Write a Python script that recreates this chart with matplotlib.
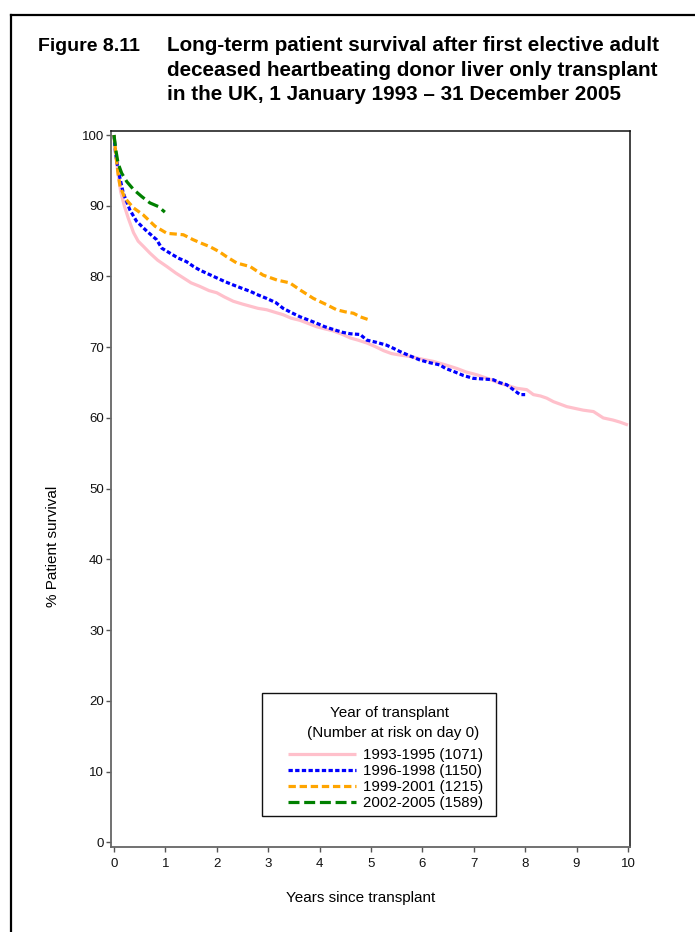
import matplotlib
matplotlib.use("Agg")
import matplotlib.pyplot as plt
from matplotlib.patches import Rectangle
from matplotlib.lines import Line2D

plt.rcParams['font.family'] = ['Liberation Sans', 'DejaVu Sans']
plt.rcParams['lines.scale_dashes'] = False

# ---------------- data ----------------
t_9395 = [0, 0.03, 0.08, 0.13, 0.2, 0.28, 0.38, 0.47, 0.58, 0.7, 0.85, 1.03, 1.2, 1.35, 1.5,
          1.67, 1.85, 2.0, 2.15, 2.32, 2.5, 2.65, 2.8, 2.97, 3.15, 3.29, 3.45, 3.62, 3.8, 3.94,
          4.1, 4.27, 4.45, 4.6, 4.75, 4.92, 5.08, 5.25, 5.4, 5.56, 5.76, 6.0, 6.21, 6.45, 6.67,
          6.85, 7.06, 7.3, 7.51, 7.7, 7.83, 8.03, 8.16, 8.3, 8.42, 8.55, 8.7, 8.81, 9.0, 9.13,
          9.33, 9.52, 9.71, 9.85, 10.0]
s_9395 = [100, 97.5, 94.5, 92.0, 90.0, 88.2, 86.2, 85.0, 84.2, 83.3, 82.3, 81.4, 80.5, 79.8, 79.1,
          78.6, 78.0, 77.7, 77.1, 76.5, 76.1, 75.8, 75.5, 75.3, 74.9, 74.6, 74.1, 73.8, 73.3, 72.9,
          72.6, 72.3, 71.8, 71.3, 71.0, 70.6, 70.1, 69.5, 69.1, 68.9, 68.7, 68.3, 68.0, 67.5, 67.0,
          66.5, 66.1, 65.5, 64.9, 64.5, 64.2, 64.0, 63.3, 63.1, 62.8, 62.3, 61.9, 61.6, 61.3, 61.1,
          60.9, 60.0, 59.7, 59.4, 59.0]

t_9698 = [0, 0.03, 0.08, 0.18, 0.31, 0.44, 0.64, 0.83, 0.93, 1.09, 1.25, 1.41, 1.55, 1.67, 1.85,
          2.0, 2.15, 2.32, 2.5, 2.65, 2.8, 2.97, 3.15, 3.29, 3.45, 3.62, 3.8, 3.94, 4.1, 4.27,
          4.45, 4.6, 4.79, 4.92, 5.1, 5.3, 5.45, 5.56, 5.75, 5.95, 6.15, 6.34, 6.45, 6.6, 6.8,
          6.99, 7.2, 7.38, 7.5, 7.64, 7.77, 7.9, 8.0]
s_9698 = [100, 97.5, 95.1, 91.8, 89.4, 87.8, 86.4, 85.2, 84.0, 83.3, 82.6, 82.1, 81.4, 80.9, 80.3,
          79.8, 79.3, 78.8, 78.3, 77.9, 77.4, 76.9, 76.3, 75.5, 74.9, 74.3, 73.8, 73.4, 72.9, 72.5,
          72.1, 71.9, 71.8, 71.0, 70.7, 70.3, 69.8, 69.4, 68.8, 68.2, 67.8, 67.5, 67.0, 66.6, 66.0,
          65.6, 65.5, 65.4, 65.0, 64.7, 64.0, 63.3, 63.3]

t_9901 = [0, 0.04, 0.08, 0.12, 0.21, 0.38, 0.57, 0.8, 1.03, 1.2, 1.35, 1.54, 1.7, 1.87, 2.05,
          2.19, 2.39, 2.65, 2.9, 3.17, 3.42, 3.62, 3.88, 4.14, 4.33, 4.5, 4.66, 4.79, 4.95, 5.0]
s_9901 = [100, 97.0, 94.5, 92.7, 91.1, 89.7, 88.7, 87.1, 86.1, 86.0, 85.9, 85.2, 84.7, 84.2, 83.5,
          82.8, 81.9, 81.4, 80.2, 79.5, 79.1, 78.1, 76.9, 76.0, 75.3, 75.0, 74.8, 74.3, 73.9, 73.9]

t_0205 = [0, 0.04, 0.08, 0.15, 0.25, 0.38, 0.54, 0.7, 0.86, 0.99]
s_0205 = [100, 97.7, 96.0, 94.6, 93.4, 92.3, 91.3, 90.4, 89.9, 89.1]

labels = ['1993-1995 (1071)', '1996-1998 (1150)', '1999-2001 (1215)', '2002-2005 (1589)']
legend_title = ['Year of transplant', '(Number at risk on day 0)']
x_ticks = list(range(0, 11))
y_ticks = list(range(0, 101, 10))

# ---------------- figure ----------------
W, H = 695, 932
fig = plt.figure(figsize=(W / 100, H / 100), dpi=100)

def fx(px):
    return px / W

def fy(py):
    return 1 - py / H

ax = fig.add_axes([fx(110.7), fy(846.7), (630 - 110.7) / W, (846.7 - 131) / H])

lw = 2.3
ax.plot(t_9395, s_9395, color='#ffc0cb', lw=2.3, solid_capstyle='butt', label=labels[0])
ax.plot(t_9698, s_9698, color='#0000ff', lw=lw, dashes=(3.1, 1.7), label=labels[1])
ax.plot(t_9901, s_9901, color='#ffa500', lw=lw, dashes=(5.3, 2.7), label=labels[2])
ax.plot(t_0205, s_0205, color='#008000', lw=lw, dashes=(7.9, 3.4), label=labels[3])

ax.set_xlim(-0.064, 10.04)
ax.set_ylim(-0.62, 100.57)
ax.set_xticks(x_ticks)
ax.set_yticks(y_ticks)
ax.tick_params(axis='both', direction='out', length=3.5, width=1.0, color='#555555',
               labelsize=9.5, labelcolor='#111111', pad=1.5)
ax.tick_params(axis='x', pad=4.5)

for side in ['left', 'bottom']:
    ax.spines[side].set_color('#666666')
    ax.spines[side].set_linewidth(1.3)
for side in ['top', 'right']:
    ax.spines[side].set_color('#111111')
    ax.spines[side].set_linewidth(1.1)

ax.set_xlabel('Years since transplant', fontsize=11, va='center', ha='center')
ax.xaxis.set_label_coords(0.481, -0.0717)
ax.set_ylabel('% Patient survival', fontsize=11, va='center', ha='center')
ax.yaxis.set_label_coords(-0.112, 0.420)

leg = ax.legend(fontsize=10.8, frameon=False, loc='upper left',
                bbox_to_anchor=(fx(288), fy(748.5)), bbox_transform=fig.transFigure,
                handlelength=4.55, handletextpad=0.47, labelspacing=0.13, borderpad=0,
                borderaxespad=0)

fig.text(fx(389), fy(713), legend_title[0], fontsize=11, ha='center', va='center')
fig.text(fx(393), fy(733), legend_title[1], fontsize=11, ha='center', va='center')

fig.patches.append(Rectangle((fx(262.3), fy(816)), (495.7 - 262.3) / W, (816 - 693.3) / H,
                             transform=fig.transFigure, fill=False, edgecolor='#111111',
                             lw=1.0))

# outer frame (left and top edges)
fig.add_artist(Line2D([fx(10.5), fx(10.5)], [fy(15), -0.01], transform=fig.transFigure,
                      color='black', lw=1.6))
fig.add_artist(Line2D([fx(10.5), 1.01], [fy(15), fy(15)], transform=fig.transFigure,
                      color='black', lw=1.6))

# title
fig.text(fx(37.7), fy(50.7), 'Figure 8.11', fontsize=14, fontweight='bold', va='baseline',
         ha='left')
title_lines = ['Long-term patient survival after first elective adult',
               'deceased heartbeating donor liver only transplant',
               'in the UK, 1 January 1993 \u2013 31 December 2005']
for line, base in zip(title_lines, [50.7, 75.5, 100.5]):
    fig.text(fx(166.7), fy(base), line, fontsize=14.85, fontweight='bold', va='baseline',
             ha='left')

fig.savefig('out.png', dpi=100)
